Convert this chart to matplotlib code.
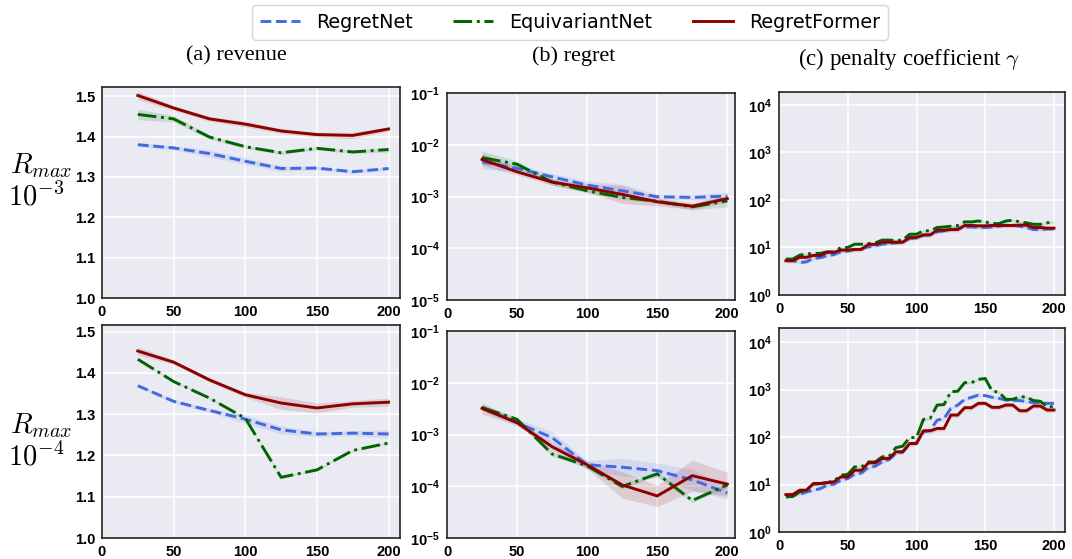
import matplotlib.pyplot as plt
import numpy as np
from matplotlib.ticker import FixedLocator, FuncFormatter, NullLocator
from matplotlib.lines import Line2D

plt.rcParams["font.family"] = ["Liberation Sans", "DejaVu Sans"]
plt.rcParams["mathtext.fontset"] = "custom"
plt.rcParams["mathtext.rm"] = "Liberation Sans"
plt.rcParams["mathtext.bf"] = "Liberation Sans:bold"
plt.rcParams["mathtext.it"] = "Liberation Sans:italic"

methods = ["RegretNet", "EquivariantNet", "RegretFormer"]
colors = ["#4169E1", "#006400", "#8B0000"]
styles = ["--", "-.", "-"]

epochs = [25, 50, 75, 100, 125, 150, 175, 200]
gamma_epochs = list(range(5, 205, 5))

# revenue, R_max = 1e-3
rev3_regret = [1.380, 1.372, 1.358, 1.339, 1.321, 1.322, 1.313, 1.321]
rev3_regret_sd = [0.005, 0.005, 0.009, 0.008, 0.007, 0.004, 0.004, 0.004]
rev3_equi = [1.455, 1.444, 1.399, 1.375, 1.360, 1.371, 1.362, 1.368]
rev3_equi_sd = [0.013, 0.008, 0.005, 0.004, 0.004, 0.004, 0.004, 0.006]
rev3_former = [1.502, 1.471, 1.444, 1.431, 1.414, 1.405, 1.403, 1.419]
rev3_former_sd = [0.010, 0.006, 0.006, 0.007, 0.006, 0.006, 0.008, 0.005]

# revenue, R_max = 1e-4
rev4_regret = [1.369, 1.331, 1.309, 1.288, 1.262, 1.252, 1.254, 1.252]
rev4_regret_sd = [0.004, 0.004, 0.005, 0.010, 0.010, 0.006, 0.006, 0.010]
rev4_equi = [1.433, 1.379, 1.339, 1.290, 1.147, 1.165, 1.212, 1.230]
rev4_equi_sd = [0.002, 0.002, 0.002, 0.002, 0.002, 0.002, 0.002, 0.002]
rev4_former = [1.453, 1.426, 1.383, 1.347, 1.327, 1.315, 1.325, 1.329]
rev4_former_sd = [0.010, 0.005, 0.005, 0.006, 0.015, 0.012, 0.008, 0.010]

# regret (band = multiplicative spread)
reg3_regret = [4.7e-3, 3.5e-3, 2.4e-3, 1.66e-3, 1.29e-3, 9.9e-4, 9.6e-4, 1.02e-3]
reg3_regret_f = [1.4, 1.15, 1.15, 1.2, 1.35, 1.1, 1.1, 1.2]
reg3_equi = [5.65e-3, 4.2e-3, 1.9e-3, 1.29e-3, 9.6e-4, 8.1e-4, 6.3e-4, 8.2e-4]
reg3_equi_f = [1.35, 1.15, 1.15, 1.1, 1.1, 1.1, 1.15, 1.3]
reg3_former = [5.2e-3, 3.0e-3, 1.9e-3, 1.47e-3, 1.1e-3, 7.9e-4, 6.5e-4, 9.1e-4]
reg3_former_f = [1.3, 1.15, 1.15, 1.2, 1.5, 1.2, 1.15, 1.15]

reg4_regret = [3.33e-3, 1.69e-3, 8.7e-4, 2.6e-4, 2.33e-4, 2.0e-4, 1.33e-4, 7.4e-5]
reg4_regret_f = [1.15, 1.2, 1.3, 1.2, 1.5, 1.4, 1.6, 1.3]
reg4_equi = [3.33e-3, 1.96e-3, 4.2e-4, 2.47e-4, 9.9e-5, 1.74e-4, 5.3e-5, 1.06e-4]
reg4_equi_f = [1.1, 1.1, 1.1, 1.1, 1.1, 1.1, 1.1, 1.1]
reg4_former = [3.19e-3, 1.69e-3, 5.8e-4, 2.6e-4, 1.06e-4, 6.5e-5, 1.6e-4, 1.1e-4]
reg4_former_f = [1.3, 1.1, 1.2, 1.2, 1.8, 1.6, 2.0, 1.7]

# penalty coefficient gamma, R_max = 1e-3
gam3_regret = [5.4, 5.3, 4.8, 5.0, 5.9, 6.1, 6.7, 7.1, 8.1, 8.4,
               9.1, 9.5, 10.3, 10.8, 11.7, 12.1, 12.5, 13.1, 15.4, 15.9,
               18.1, 18.7, 21.2, 22.4, 23.8, 25.0, 27.0, 27.0, 26.3, 26.3,
               27.0, 28.0, 29.4, 29.4, 28.0, 26.3, 23.8, 23.8, 24.6, 24.6]
gam3_equi = [5.7, 5.7, 6.9, 7.3, 7.5, 7.5, 8.1, 8.1, 10.0, 10.0,
             11.7, 11.7, 12.1, 12.5, 14.3, 14.3, 14.0, 14.3, 19.0, 19.0,
             22.4, 22.4, 26.3, 27.0, 28.0, 29.0, 34.5, 34.5, 36.0, 34.5,
             31.8, 31.8, 36.0, 37.5, 34.5, 33.0, 30.7, 30.7, 33.0, 34.0]
gam3_former = [5.25, 5.25, 6.2, 6.2, 6.8, 6.8, 7.9, 7.9, 8.8, 8.8,
               9.1, 9.1, 11.6, 11.6, 12.9, 12.9, 12.9, 12.9, 16.2, 16.2,
               18.4, 18.4, 23.1, 23.1, 23.8, 23.8, 29.0, 29.0, 28.5, 28.5,
               29.0, 29.0, 29.0, 29.0, 29.5, 29.5, 26.3, 26.3, 25.5, 25.5]

# penalty coefficient gamma, R_max = 1e-4
gam4_regret = [6.0, 6.1, 6.2, 7.0, 7.6, 8.2, 9.7, 10.2, 12.3, 13.4,
               16.5, 17.6, 22.9, 24.4, 30.0, 33.7, 45.0, 49.0, 71.0, 75.6,
               130, 140, 228, 246, 403, 474, 625, 690, 771, 750,
               690, 658, 605, 590, 590, 563, 535, 535, 515, 515]
gam4_equi = [5.5, 5.6, 7.0, 7.6, 10.2, 10.5, 11.0, 11.9, 15.7, 16.5,
             23.6, 23.6, 30.0, 30.0, 38.4, 39.0, 60.0, 64.5, 98, 98,
             236, 250, 474, 485, 907, 930, 1406, 1406, 1652, 1720,
             937, 880, 625, 625, 711, 700, 590, 570, 437, 437]
gam4_former = [6.15, 6.15, 7.6, 7.6, 10.5, 10.5, 11.0, 11.4, 14.5, 14.5,
               20.0, 20.0, 28.7, 28.7, 35.4, 35.4, 49.0, 49.0, 73.5, 73.5,
               136, 136, 152, 152, 292, 292, 417, 417, 515, 515,
               424, 424, 474, 474, 360, 360, 452, 452, 372, 372]
gam_spread = [1.08, 1.06, 1.12]

bg = "#EAEAF2"
fig = plt.figure(figsize=(10.72, 5.59), dpi=100)
W, H = 1072, 559


def make_ax(x0, y0, x1, y1):
    ax = fig.add_axes([x0 / W, 1 - y1 / H, (x1 - x0) / W, (y1 - y0) / H])
    ax.set_facecolor(bg)
    ax.grid(True, color="white", lw=1.1)
    ax.set_axisbelow(True)
    for s in ax.spines.values():
        s.set_color("#222222")
        s.set_linewidth(1.2)
    ax.tick_params(length=0, pad=5, labelsize=10.5)
    ax.xaxis.set_major_locator(FixedLocator([0, 50, 100, 150, 200]))
    return ax


def bold_ticks(ax):
    for lab in ax.get_xticklabels() + ax.get_yticklabels():
        lab.set_fontweight("bold")


def rev_panel(ax, data, sds, top):
    for i in range(3):
        y = np.array(data[i])
        sd = np.array(sds[i])
        ax.fill_between(epochs, y - sd, y + sd, color=colors[i], alpha=0.13, lw=0)
        ax.plot(epochs, y, ls=styles[i], color=colors[i], lw=2.1)
    ax.set_xlim(0, 208)
    ax.set_ylim(1.0, top)
    ax.yaxis.set_major_locator(FixedLocator([1.0, 1.1, 1.2, 1.3, 1.4, 1.5]))
    ax.yaxis.set_major_formatter(FuncFormatter(lambda v, p: f"{v:.1f}"))
    bold_ticks(ax)


def log_fmt(v, p):
    return r"$\mathbf{10^{%d}}$" % int(round(np.log10(v)))


def log_panel(ax, xs, data, spreads, xmax, ylim, ticks):
    for i in range(3):
        y = np.array(data[i])
        f = np.array(spreads[i])
        ax.fill_between(xs, y / f, y * f, color=colors[i], alpha=0.13, lw=0)
        ax.plot(xs, y, ls=styles[i], color=colors[i], lw=2.1)
    ax.set_yscale("log")
    ax.set_xlim(0, xmax)
    ax.set_ylim(*ylim)
    ax.yaxis.set_major_locator(FixedLocator(ticks))
    ax.yaxis.set_minor_locator(NullLocator())
    ax.yaxis.set_major_formatter(FuncFormatter(log_fmt))
    bold_ticks(ax)


ax1 = make_ax(102, 87, 400, 298)
rev_panel(ax1, [rev3_regret, rev3_equi, rev3_former],
          [rev3_regret_sd, rev3_equi_sd, rev3_former_sd], 1.523)
ax4 = make_ax(102, 325, 400, 538)
rev_panel(ax4, [rev4_regret, rev4_equi, rev4_former],
          [rev4_regret_sd, rev4_equi_sd, rev4_former_sd], 1.516)

ax2 = make_ax(447, 93, 735, 300)
log_panel(ax2, epochs, [reg3_regret, reg3_equi, reg3_former],
          [reg3_regret_f, reg3_equi_f, reg3_former_f], 205.5, (1e-5, 1e-1),
          [1e-5, 1e-4, 1e-3, 1e-2, 1e-1])
ax5 = make_ax(447, 331, 735, 538)
log_panel(ax5, epochs, [reg4_regret, reg4_equi, reg4_former],
          [reg4_regret_f, reg4_equi_f, reg4_former_f], 205.5, (1e-5, 1e-1),
          [1e-5, 1e-4, 1e-3, 1e-2, 1e-1])

ax3 = make_ax(779, 92, 1065, 295)
log_panel(ax3, gamma_epochs, [gam3_regret, gam3_equi, gam3_former],
          [[s] * len(gamma_epochs) for s in gam_spread], 208, (1, 10 ** 4.27),
          [1, 10, 100, 1000, 10000])
ax6 = make_ax(779, 328, 1065, 532)
log_panel(ax6, gamma_epochs, [gam4_regret, gam4_equi, gam4_former],
          [[s] * len(gamma_epochs) for s in gam_spread], 208, (1, 10 ** 4.3),
          [1, 10, 100, 1000, 10000])

# column titles
serif = ["Liberation Serif", "DejaVu Serif"]
fig.text(236 / W, 1 - 56 / H, "(a) revenue", family=serif, fontsize=16,
         ha="center", va="center")
fig.text(574 / W, 1 - 56 / H, "(b) regret", family=serif, fontsize=16,
         ha="center", va="center")
fig.text(909 / W, 1 - 59 / H, r"(c) penalty coefficient $\gamma$", family=serif,
         fontsize=16.5, ha="center", va="center", math_fontfamily="cm")

# row labels
for yr, ye, lab in [(173, 206, r"$10^{-3}$"), (433, 466, r"$10^{-4}$")]:
    fig.text(10 / W, 1 - yr / H, r"$R_{max}$", fontsize=20.5, ha="left",
             va="baseline", math_fontfamily="cm")
    fig.text(8 / W, 1 - ye / H, lab, fontsize=20.5, ha="left",
             va="baseline", math_fontfamily="cm")

handles = [Line2D([], [], ls=styles[i], color=colors[i], lw=2.1) for i in range(3)]
fig.legend(handles, methods, loc="center", bbox_to_anchor=(570 / W, 1 - 22.5 / H),
           ncol=3, frameon=True, fancybox=True, edgecolor="#cccccc",
           prop={"family": "DejaVu Sans", "size": 13.8}, handlelength=2.1,
           handletextpad=0.85, columnspacing=2.1, borderpad=0.4)

fig.savefig("out.png", dpi=100)
